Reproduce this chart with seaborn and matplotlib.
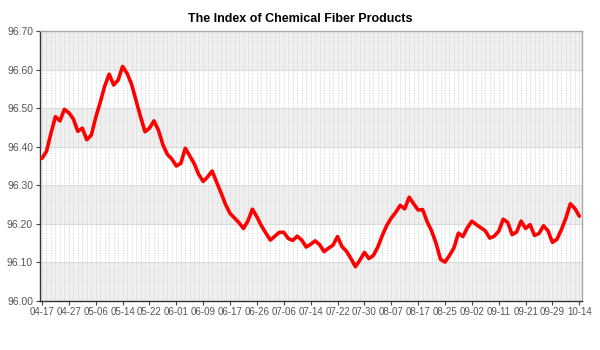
import matplotlib
matplotlib.use("Agg")
import matplotlib.pyplot as plt
import matplotlib.ticker as mticker
import seaborn as sns
import pandas as pd
import numpy as np

title = "The Index of Chemical Fiber Products"

tick_labels = ["04-17", "04-27", "05-06", "05-14", "05-22", "06-01", "06-09",
               "06-17", "06-26", "07-06", "07-14", "07-22", "07-30", "08-07",
               "08-17", "08-25", "09-02", "09-11", "09-21", "09-29", "10-14"]

index_values = [
    96.370, 96.388, 96.435, 96.478, 96.467, 96.497, 96.488, 96.472, 96.440, 96.448,
    96.418, 96.430, 96.476, 96.515, 96.557, 96.588, 96.560, 96.573, 96.608, 96.590,
    96.562, 96.520, 96.478, 96.439, 96.448, 96.467, 96.443, 96.405, 96.380, 96.368,
    96.350, 96.357, 96.396, 96.376, 96.356, 96.328, 96.310, 96.322, 96.337, 96.308,
    96.280, 96.250, 96.227, 96.215, 96.203, 96.188, 96.208, 96.238, 96.218, 96.195,
    96.176, 96.158, 96.168, 96.178, 96.178, 96.162, 96.157, 96.168, 96.158, 96.140,
    96.147, 96.156, 96.146, 96.128, 96.137, 96.145, 96.167, 96.141, 96.129, 96.110,
    96.089, 96.106, 96.126, 96.110, 96.118, 96.140, 96.170, 96.196, 96.215, 96.230,
    96.248, 96.239, 96.269, 96.252, 96.236, 96.237, 96.206, 96.182, 96.150, 96.108,
    96.101, 96.118, 96.138, 96.176, 96.167, 96.190, 96.207, 96.198, 96.190, 96.182,
    96.163, 96.168, 96.181, 96.212, 96.204, 96.172, 96.179, 96.207, 96.188, 96.198,
    96.170, 96.175, 96.195, 96.182, 96.152, 96.160, 96.185, 96.215, 96.252, 96.240,
    96.220,
]

y_ticks = [96.00, 96.10, 96.20, 96.30, 96.40, 96.50, 96.60, 96.70]
tick_step = 6

sns.set_style("white")
plt.rcParams["font.family"] = ["Liberation Sans", "DejaVu Sans"]

df = pd.DataFrame({"idx": np.arange(len(index_values)), "value": index_values})

fig = plt.figure(figsize=(6, 3.5), dpi=100)
ax = fig.add_axes([40 / 600, 1 - 301 / 350, 542 / 600, 270 / 350])

# alternating horizontal bands
for k in range(len(y_ticks) - 1):
    if (len(y_ticks) - 2 - k) % 2 == 0:
        ax.axhspan(y_ticks[k], y_ticks[k + 1], color="#efefef", zorder=0, lw=0)

# vertical dotted grid at every point
for i in range(len(index_values)):
    ax.axvline(i, color="#d2d2d2", lw=0.6, ls=(0, (1.5, 1.5)), zorder=0.5)
for yv in y_ticks:
    ax.axhline(yv, color="#dcdcdc", lw=0.8, zorder=0.6)

sns.lineplot(data=df, x="idx", y="value", ax=ax, color="#ff0000", lw=2.6, zorder=3,
             solid_joinstyle="round", solid_capstyle="round")

ax.set_xlim(-0.45, 120.6)
ax.set_ylim(96.0, 96.7)
ax.set_yticks(y_ticks)
ax.yaxis.set_major_formatter(mticker.FormatStrFormatter("%.2f"))
ax.set_xticks(np.arange(0, len(tick_labels) * tick_step, tick_step))
ax.set_xticklabels(tick_labels)
ax.set_xlabel("")
ax.set_ylabel("")
ax.tick_params(axis="x", labelsize=7, colors="#444444", length=3, width=0.8,
               direction="out", pad=1.5, bottom=True)
ax.tick_params(axis="y", labelsize=7.5, colors="#444444", length=3, width=0.8,
               direction="out", pad=2, left=True)
for lab in ax.get_xticklabels() + ax.get_yticklabels():
    lab.set_color("#555555")

ax.spines["left"].set_color("#333333")
ax.spines["bottom"].set_color("#333333")
ax.spines["right"].set_color("#aaaaaa")
ax.spines["top"].set_color("#aaaaaa")
for s in ax.spines.values():
    s.set_linewidth(1.0)

fig.text(0.5, 1 - 19 / 350, title, ha="center", va="center",
         fontsize=9, fontweight="bold", color="#000000")

fig.savefig("out.png", dpi=100)
